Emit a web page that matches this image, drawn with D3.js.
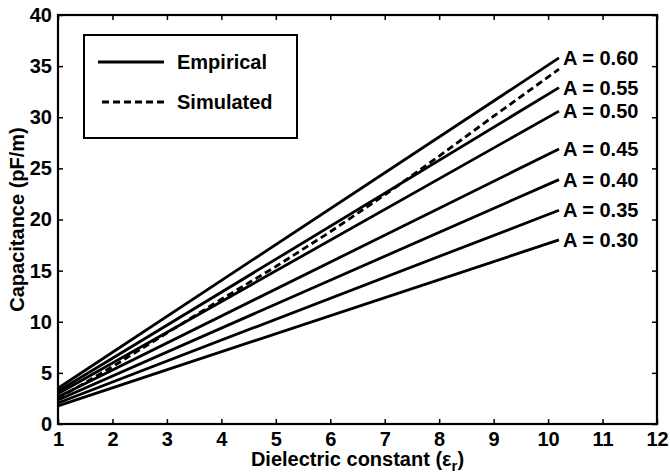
<!DOCTYPE html>
<html lang="en">
<head>
  <meta charset="UTF-8">
  <script src="https://d3js.org/d3.v7.min.js"></script>
  <style>
    body { margin: 0; background: #fff; }
    text { font-family: "Liberation Sans", Arial, sans-serif; font-weight: bold; fill: #000; }
  </style>
</head>
<body>
  <div id="container"></div>
  <script type="text/javascript">
    const w = 670
    const h = 474
    const margin = { top: 15, right: 13, bottom: 50, left: 58 }

    // data
    const xTicks = [1, 2, 3, 4, 5, 6, 7, 8, 9, 10, 11, 12]
    const yTicks = [0, 5, 10, 15, 20, 25, 30, 35, 40]
    const aLabels = ["A = 0.60", "A = 0.55", "A = 0.50", "A = 0.45", "A = 0.40", "A = 0.35", "A = 0.30"]
    const empEps = [1, 10.2]
    const empStart = [3.5, 3.2, 2.95, 2.65, 2.35, 2.05, 1.78]
    const empEnd = [35.8, 32.9, 30.6, 26.9, 23.9, 20.9, 18.0]
    const simEps = [1, 2, 3, 4, 5, 6, 7, 8, 9, 10.2]
    const simCap = [2.5, 5.6, 8.9, 12.2, 15.4, 18.8, 22.4, 26.2, 30.1, 34.7]

    const svg = d3.select("#container")
      .append("svg")
      .attr("width", w)
      .attr("height", h)
      .style("display", "block");

    const x = d3.scaleLinear().domain([1, 12]).range([margin.left, w - margin.right]);
    const y = d3.scaleLinear().domain([0, 40]).range([h - margin.bottom, margin.top]);

    const line = d3.line().x(d => x(d[0])).y(d => y(d[1]));

    // empirical lines
    aLabels.forEach(function (lab, i) {
      const pts = [[empEps[0], empStart[i]], [empEps[1], empEnd[i]]];
      svg.append("path")
        .attr("d", line(pts))
        .attr("fill", "none")
        .attr("stroke", "#000")
        .attr("stroke-width", 2.8);
      svg.append("text")
        .attr("x", x(empEps[1]) + 4)
        .attr("y", y(empEnd[i]))
        .attr("dy", "0.36em")
        .style("font-size", "20px")
        .text(lab);
    });

    // simulated
    svg.append("path")
      .attr("d", line(simEps.map((e, i) => [e, simCap[i]])))
      .attr("fill", "none")
      .attr("stroke", "#000")
      .attr("stroke-width", 2.8)
      .attr("stroke-dasharray", "7,4");

    // axes, ticks pointing inward on all sides
    const fmt = d3.format("d");
    svg.append("g")
      .attr("transform", "translate(0," + y(0) + ")")
      .call(d3.axisBottom(x).tickValues(xTicks).tickFormat(fmt).tickSize(-5).tickPadding(8))
      .call(g => g.select(".domain").remove());
    svg.append("g")
      .attr("transform", "translate(" + x(1) + ",0)")
      .call(d3.axisLeft(y).tickValues(yTicks).tickFormat(fmt).tickSize(-5).tickPadding(6))
      .call(g => g.select(".domain").remove());
    svg.append("g")
      .attr("transform", "translate(0," + y(40) + ")")
      .call(d3.axisTop(x).tickValues(xTicks).tickFormat("").tickSize(-5))
      .call(g => g.select(".domain").remove());
    svg.append("g")
      .attr("transform", "translate(" + x(12) + ",0)")
      .call(d3.axisRight(y).tickValues(yTicks).tickFormat("").tickSize(-5))
      .call(g => g.select(".domain").remove());

    svg.selectAll(".tick line").attr("stroke", "#000").attr("stroke-width", 1.5);
    svg.selectAll(".tick text")
      .style("font-family", "'Liberation Sans', Arial, sans-serif")
      .style("font-weight", "bold")
      .style("font-size", "20px")
      .attr("fill", "#000");

    svg.append("rect")
      .attr("x", x(1))
      .attr("y", y(40))
      .attr("width", x(12) - x(1))
      .attr("height", y(0) - y(40))
      .attr("fill", "none")
      .attr("stroke", "#000")
      .attr("stroke-width", 2.2);

    // legend
    const lg = svg.append("g");
    lg.append("rect")
      .attr("x", 84).attr("y", 35).attr("width", 213).attr("height", 103)
      .attr("fill", "#fff").attr("stroke", "#000").attr("stroke-width", 2);
    lg.append("line")
      .attr("x1", 98).attr("x2", 164).attr("y1", 62).attr("y2", 62)
      .attr("stroke", "#000").attr("stroke-width", 2.8);
    lg.append("line")
      .attr("x1", 102).attr("x2", 164).attr("y1", 102).attr("y2", 102)
      .attr("stroke", "#000").attr("stroke-width", 2.8).attr("stroke-dasharray", "7,4");
    lg.append("text").attr("x", 177).attr("y", 62).attr("dy", "0.36em")
      .style("font-size", "20px").text("Empirical");
    lg.append("text").attr("x", 177).attr("y", 102).attr("dy", "0.36em")
      .style("font-size", "20px").text("Simulated");

    // axis titles
    const xt = svg.append("text")
      .attr("x", (x(1) + x(12)) / 2)
      .attr("y", 466)
      .attr("text-anchor", "middle")
      .style("font-size", "20px")
      .text("Dielectric constant (ε");
    xt.append("tspan").attr("dy", 5).style("font-size", "15px").text("r");
    xt.append("tspan").attr("dy", -5).text(")");

    svg.append("text")
      .attr("transform", "translate(24," + (y(0) + y(40)) / 2 + ") rotate(-90)")
      .attr("text-anchor", "middle")
      .style("font-size", "20px")
      .text("Capacitance (pF/m)");
  </script>
</body>
</html>
